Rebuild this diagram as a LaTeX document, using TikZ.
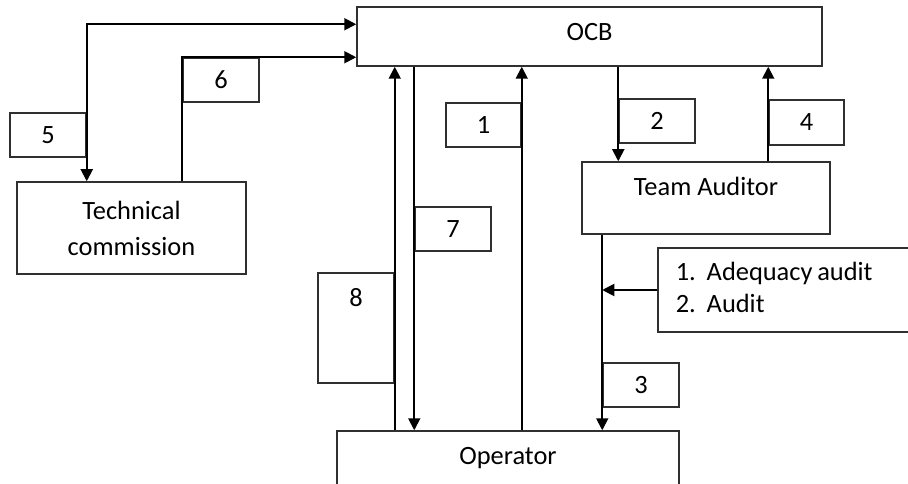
\documentclass[tikz,border=0pt]{standalone}
\usepackage{fontspec}
\setmainfont{Carlito}
\usetikzlibrary{arrows.meta,calc}
\definecolor{boxline}{HTML}{303030}
\begin{document}
\begin{tikzpicture}[x=1pt,y=-1pt,
 box/.style={draw=boxline, line width=1.5pt, inner sep=0pt, font=\fontsize{26.4}{36}\selectfont},
 numbox/.style={box, minimum width=76pt, minimum height=44pt},
 arr/.style={line width=1.9pt, -{Triangle[length=12pt,width=12pt]}},
 biarr/.style={line width=1.9pt, {Triangle[length=12pt,width=12pt]}-{Triangle[length=12pt,width=12pt]}}]
\useasboundingbox (0,0) rectangle (908,484);
\clip (0,0) rectangle (908,484);
% main boxes
\node[box, minimum width=465pt, text height=34pt, text depth=25pt] (ocb) at (589.5,36.5) {OCB};
\node[box, minimum width=229pt, minimum height=92pt, align=center] (tc) at (131.5,228) {Technical\\commission};
\node[box, minimum width=248pt, text height=33pt, text depth=39pt] (ta) at (706,198) {Team Auditor};
\node[box, minimum width=342pt, text height=33pt, text depth=46pt] (op) at (508,470.5) {Operator};
\node[box, inner xsep=18pt, minimum height=84pt, anchor=west] (adeq) at (657,290)
      {\makebox[234pt][l]{\fontsize{26.4}{32}\selectfont\begin{tabular}{@{}l@{}}\makebox[31pt][l]{1.}Adequacy\hspace{0.18em}audit\\\makebox[31pt][l]{2.}Audit\end{tabular}}};
% number boxes
\node[numbox] (b5) at (48,135) {5};
\node[numbox] (b6) at (221,80) {6};
\node[numbox, minimum width=75pt] (b1) at (483.5,125) {1};
\node[numbox] (b2) at (657,121) {2};
\node[numbox, minimum width=75pt, minimum height=45pt] (b4) at (806.5,122.5) {4};
\node[numbox] (b7) at (453,229) {7};
\node[numbox] (b3) at (641,385) {3};
\node[box, minimum width=76pt, text height=33pt, text depth=77pt] (b8) at (356,328) {8};
% connectors
\draw[biarr] (b5.east |- tc.north) |- ($(ocb.north west)+(0,18)$);
\draw[arr] (b6.west |- tc.north) |- (ocb.west |- b6.north);
\draw[arr] (b8.east |- op.north) -- (b8.east |- ocb.south);
\draw[arr] (b7.west |- ocb.south) -- (b7.west |- op.north);
\draw[arr] (b1.east |- op.north) -- (b1.east |- ocb.south);
\draw[arr] (b2.west |- ocb.south) -- (b2.west |- ta.north);
\draw[arr] (b4.west |- ta.north) -- (b4.west |- ocb.south);
\draw[arr] (b3.west |- ta.south) -- (b3.west |- op.north);
\draw[arr] (adeq.west) -- (b3.west |- adeq.west);
\end{tikzpicture}
\end{document}
